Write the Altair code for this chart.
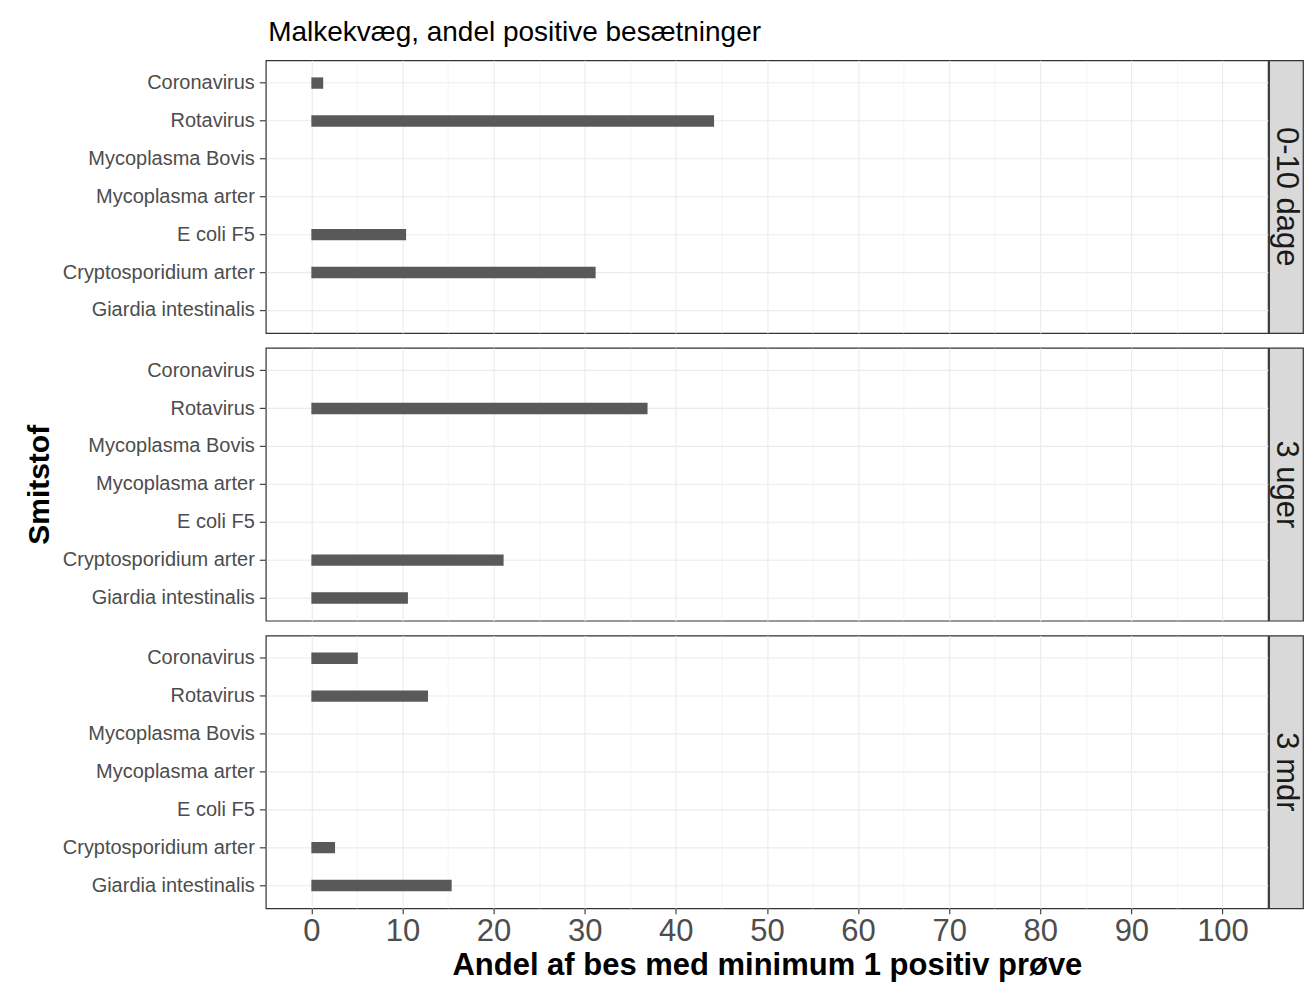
import altair as alt
import pandas as pd

# ---- data ----
categories = ["Coronavirus", "Rotavirus", "Mycoplasma Bovis", "Mycoplasma arter",
              "E coli F5", "Cryptosporidium arter", "Giardia intestinalis"]
groups = ["0-10 dage", "3 uger", "3 mdr"]
vals_0_10_dage = [1.3, 44.2, 0, 0, 10.4, 31.2, 0]
vals_3_uger = [0, 36.9, 0, 0, 0, 21.1, 10.6]
vals_3_mdr = [5.1, 12.8, 0, 0, 0, 2.6, 15.4]
x_breaks = list(range(0, 101, 5))

title_text = "Malkekvæg, andel positive besætninger"
x_title = "Andel af bes med minimum 1 positiv prøve"
y_title = "Smitstof"

rows = []
for g, vals in zip(groups, [vals_0_10_dage, vals_3_uger, vals_3_mdr]):
    for c, v in zip(categories, vals):
        rows.append({"gruppe": g, "smitstof": c, "andel": v})
df = pd.DataFrame(rows)

FONT = "Liberation Sans"
W, H, SW = 1003, 273, 34
GRID = "#EBEBEB"
BORDER = "#333333"
major = "datum.value % 10 === 0"


def main_panel(g, i):
    bottom = i == len(groups) - 1
    grid_w = alt.condition(major, alt.value(1.1), alt.value(0.55))
    if bottom:
        xaxis = alt.Axis(values=x_breaks, title=x_title,
                         labelExpr="datum.value % 10 === 0 ? datum.label : ''",
                         grid=True, gridColor=GRID, gridWidth=grid_w,
                         tickOpacity=alt.condition(major, alt.value(1), alt.value(0)),
                         tickSize=5.5, tickColor=BORDER, tickWidth=1.1,
                         labelFontSize=31, labelColor="#4D4D4D", labelPadding=3,
                         labelFont=FONT, titleFont=FONT,
                         titleFontSize=31, titleFontWeight="bold", titleColor="black",
                         titlePadding=4, domain=False, labelFlush=False)
    else:
        xaxis = alt.Axis(values=x_breaks, title=None, labels=False, ticks=False,
                         domain=False, grid=True, gridColor=GRID, gridWidth=grid_w)
    yaxis = alt.Axis(title=y_title, titleOpacity=1 if i == 1 else 0,
                     titleFont=FONT, titleFontSize=30, titleFontWeight="bold",
                     titleColor="black", titlePadding=11,
                     labelFont=FONT, labelFontSize=20, labelColor="#4D4D4D",
                     labelLimit=0, labelPadding=5,
                     tickSize=6.5, tickColor=BORDER, tickWidth=1.1,
                     bandPosition=0.5, grid=True, gridColor=GRID, gridWidth=1.1,
                     domain=False)
    return (
        alt.Chart(df)
        .transform_filter(alt.datum.gruppe == g)
        .mark_bar(color="#595959")
        .encode(
            x=alt.X("andel:Q", scale=alt.Scale(domain=[-5, 105], nice=False, zero=False),
                    axis=xaxis),
            y=alt.Y("smitstof:N", sort=categories,
                    scale=alt.Scale(paddingInner=0.7, paddingOuter=0.45, round=False),
                    axis=yaxis),
        )
        .properties(width=W, height=H,
                    view=alt.ViewBackground(fill="white", stroke=BORDER, strokeWidth=1.2))
    )


def strip_panel(g):
    return (
        alt.Chart(pd.DataFrame({"gruppe": [g]}))
        .mark_text(angle=90, fontSize=31, font=FONT, color="#1A1A1A",
                   align="center", baseline="middle")
        .encode(text="gruppe:N", x=alt.value(SW / 2), y=alt.value(H / 2))
        .properties(width=SW, height=H,
                    view=alt.ViewBackground(fill="#D9D9D9", stroke=BORDER,
                                            strokeWidth=1.2))
    )


cells = []
for i, g in enumerate(groups):
    cells.append(main_panel(g, i))
    cells.append(strip_panel(g))

chart = (
    alt.concat(*cells, columns=2, spacing={"row": 12.8, "column": -1.2})
    .properties(
        title=alt.TitleParams(title_text, anchor="start", font=FONT, fontSize=28,
                              fontWeight="normal", color="black", dx=244, offset=13),
        padding={"left": 16, "top": 10, "right": 0, "bottom": 0},
    )
    .configure_view(stroke=BORDER, strokeWidth=1.2)
    .configure(background="white")
)

chart.save("out.html", embed_options={"renderer": "svg", "actions": False})
